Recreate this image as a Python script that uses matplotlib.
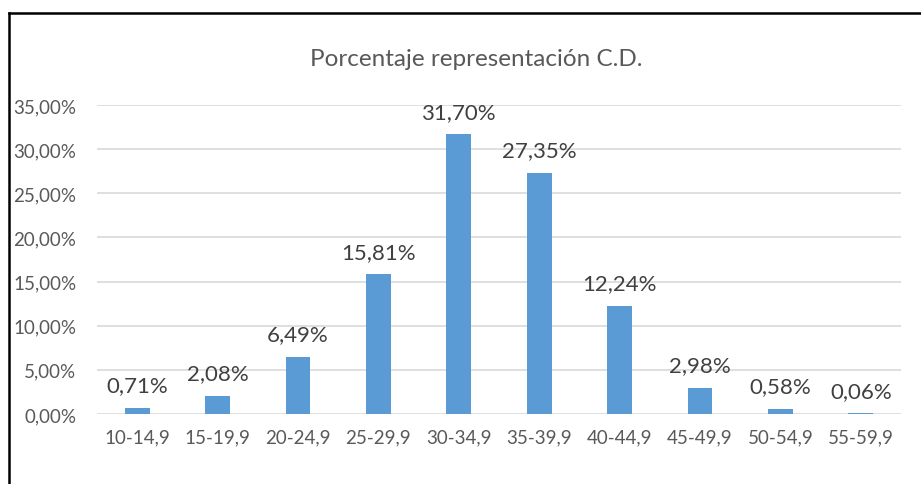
import matplotlib.pyplot as plt
from matplotlib.lines import Line2D

categorias = ["10-14,9", "15-19,9", "20-24,9", "25-29,9", "30-34,9",
              "35-39,9", "40-44,9", "45-49,9", "50-54,9", "55-59,9"]
porcentajes = [0.71, 2.08, 6.49, 15.81, 31.70, 27.35, 12.24, 2.98, 0.58, 0.06]
ticks_y = [0, 5, 10, 15, 20, 25, 30, 35]

gris = "#595959"
azul = "#5B9BD5"

plt.rcParams['font.family'] = ['Lato', 'DejaVu Sans']

fig = plt.figure(figsize=(9.21, 4.85), dpi=100)
ax = fig.add_axes([97 / 921, 1 - 415 / 485, 804 / 921, 309 / 485])

x = list(range(len(categorias)))
barras = ax.bar(x, porcentajes, width=0.31, color=azul, zorder=3)

for xi, v in zip(x, porcentajes):
    ax.annotate(("%.2f%%" % v).replace(".", ","), (xi, v), xytext=(0, 9),
                textcoords="offset points", ha="center", va="bottom",
                fontsize=16, color="#404040")

ax.set_xlim(-0.5, len(categorias) - 0.5)
ax.set_ylim(0, 35)
ax.set_yticks(ticks_y)
ax.set_yticklabels([("%.2f%%" % t).replace(".", ",") for t in ticks_y])
ax.set_xticks(x)
ax.set_xticklabels(categorias)
ax.tick_params(axis="both", length=0, colors=gris, labelsize=13.5)
ax.tick_params(axis="x", pad=10)
ax.tick_params(axis="y", pad=15)
ax.grid(axis="y", color="#D9D9D9", linewidth=1.2, zorder=0)
for s in ax.spines.values():
    s.set_visible(False)

fig.text(476 / 921, 1 - 59 / 485, "Porcentaje representación C.D.",
         ha="center", va="center", fontsize=17.5, color=gris)

# marco del gráfico (recortado)
fig.add_artist(Line2D([8.5 / 921, 8.5 / 921], [0, 1 - 13.5 / 485],
                      transform=fig.transFigure, color="black", linewidth=1.8))
fig.add_artist(Line2D([8.5 / 921, 1], [1 - 13.5 / 485, 1 - 13.5 / 485],
                      transform=fig.transFigure, color="black", linewidth=1.8))

fig.savefig("out.png", dpi=100)
